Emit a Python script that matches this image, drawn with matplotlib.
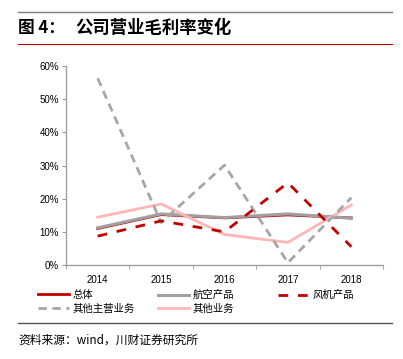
import numpy as np
import matplotlib.pyplot as plt
from matplotlib.lines import Line2D

plt.rcParams['font.family'] = ['Noto Sans CJK SC', 'DejaVu Sans']

years = ['2014', '2015', '2016', '2017', '2018']
total = [11.0, 15.2, 14.2, 15.1, 14.2]
aviation = [11.2, 15.4, 14.3, 15.4, 14.1]
fan = [8.7, 13.3, 10.0, 24.8, 5.5]
other_main = [56.3, 12.8, 30.1, 0.7, 20.3]
other_biz = [14.4, 18.4, 9.2, 6.8, 18.1]
yticks = [0, 10, 20, 30, 40, 50, 60]

W, H = 403, 359
fig = plt.figure(figsize=(W / 100, H / 100), dpi=100, facecolor='white')

# title block with rules
fig.add_artist(Line2D([18 / W, 392 / W], [1 - 12 / H, 1 - 12 / H], color='#7f7f7f', lw=1.0))
fig.add_artist(Line2D([18 / W, 392 / W], [1 - 44 / H, 1 - 44 / H], color='#c00000', lw=0.8))
fig.text(18 / W, 1 - 28 / H, '图 4：', fontsize=12, fontweight='bold', va='center', ha='left')
fig.text(75 / W, 1 - 28 / H, '公司营业毛利率变化', fontsize=12.5, fontweight='bold', va='center', ha='left')

ax = fig.add_axes([66 / W, (H - 265) / H, (383 - 66) / W, (265 - 66) / H])
x = np.arange(len(years))

red = '#c00000'
l_total, = ax.plot(x, total, color=red, lw=2.0, zorder=2, label='总体')
l_av, = ax.plot(x, aviation, color='#a0a0a0', lw=2.2, zorder=3, label='航空产品')
l_fan, = ax.plot(x, fan, color=red, lw=2.0, dashes=(3.5, 3.5), zorder=5, label='风机产品')
l_om, = ax.plot(x, other_main, color='#a6a6a6', lw=2.0, dashes=(3, 2), zorder=4, label='其他主营业务')
l_ob, = ax.plot(x, other_biz, color='#ffb6b6', lw=2.0, zorder=3.5, label='其他业务')

ax.set_xlim(-0.5, len(years) - 0.5)
ax.set_ylim(0, 60)
ax.set_yticks(yticks)
ax.set_yticklabels([f'{v}%' for v in yticks], family='Liberation Sans', fontsize=7)
ax.set_xticks(x)
ax.set_xticklabels(years, family='Liberation Sans', fontsize=7)
ax.set_xticks(np.arange(-0.5, len(years)), minor=True)
ax.tick_params(axis='x', which='major', length=0, pad=7)
ax.tick_params(axis='x', which='minor', length=3, color='#999999', direction='out')
ax.tick_params(axis='y', length=3, color='#999999', direction='out', pad=2)
for s in ['top', 'right']:
    ax.spines[s].set_visible(False)
for s in ['left', 'bottom']:
    ax.spines[s].set_color('#a0a0a0')
    ax.spines[s].set_linewidth(1.0)

# one legend per column so the columns line up as in the source
columns = [([l_total, l_om], 38), ([l_av, l_ob], 158), ([l_fan], 278)]
for hs, left in columns:
    fig.legend(hs, [h.get_label() for h in hs], loc='upper left',
               bbox_to_anchor=(left / W, 1 - 290 / H), frameon=False, fontsize=7.5,
               handlelength=3.0, handletextpad=0.3, labelspacing=0.35,
               borderaxespad=0, borderpad=0)

fig.add_artist(Line2D([18 / W, 392 / W], [1 - 323 / H, 1 - 323 / H], color='#555555', lw=1.0))
fig.text(18 / W, 1 - 340 / H, '资料来源：wind，川财证券研究所', fontsize=8.5, style='italic',
         va='center', ha='left')

fig.savefig('out.png', dpi=100)
